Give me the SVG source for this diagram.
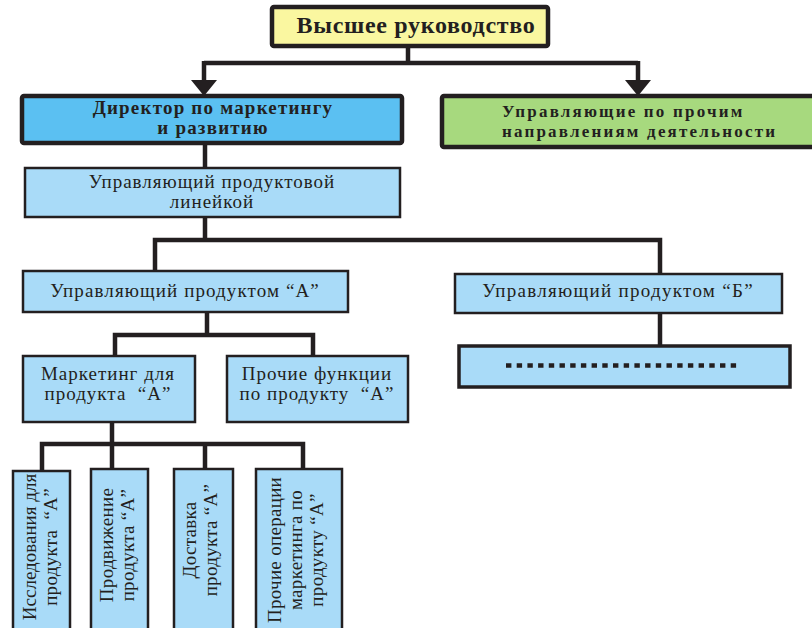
<svg xmlns="http://www.w3.org/2000/svg" width="812" height="628" viewBox="0 0 812 628">
<defs>
<style>
.t{font-family:"Liberation Serif","DejaVu Serif",serif;fill:#231F20;}
.b{font-weight:bold;}
.c{text-anchor:middle;}
.box{stroke:#231F20;stroke-width:2.5;fill:#A9DBF8;}
.thick{stroke-width:4.5;}
.con{fill:none;stroke:#231F20;stroke-width:4.5;stroke-linejoin:miter;}
</style>
<marker id="arr" viewBox="0 0 16 26" refX="0" refY="13" markerWidth="16" markerHeight="26" orient="auto" markerUnits="userSpaceOnUse">
<path d="M0,0 L16,13 L0,26 z" fill="#231F20"/>
</marker>
</defs>
<rect width="812" height="628" fill="#FFFFFF"/>

<g id="connectors">
<path class="con" d="M408,46 V63 M204,63 H638"/>
<path class="con" d="M204,61 V80" marker-end="url(#arr)"/>
<path class="con" d="M638,61 V80" marker-end="url(#arr)"/>
<path class="con" d="M205,143 V168"/>
<path class="con" d="M205,217 V240 M155,272 V240 H660 V274"/>
<path class="con" d="M207,312 V335 M115,356 V335 H313 V356"/>
<path class="con" d="M660,313 V346"/>
<path class="con" d="M112,422 V444 M42,472 V444 H303 V470 M112,444 V470 M205,444 V470"/>
</g>

<g id="n-top">
<rect x="272" y="7" width="276" height="39" rx="2" class="box thick" style="fill:#FAF7A0"/>
<text class="t b c" x="416" y="33" font-size="24" letter-spacing="0.7">Высшее руководство</text>
</g>

<g id="n-director">
<rect x="22" y="96" width="380" height="47" rx="2" class="box thick" style="fill:#5BC0F2"/>
<text class="t b c" x="213" y="114" font-size="19" letter-spacing="1.2">Директор по маркетингу</text>
<text class="t b c" x="213" y="134" font-size="19" letter-spacing="1.2">и развитию</text>
</g>

<g id="n-other-directions">
<rect x="442" y="96" width="380" height="51" rx="2" class="box thick" style="fill:#A7D97E"/>
<text class="t b" x="502" y="117" font-size="17" letter-spacing="2.2">Управляющие по прочим</text>
<text class="t b" x="502" y="137" font-size="17" letter-spacing="2.2">направлениям деятельности</text>
</g>

<g id="n-product-line">
<rect x="25" y="168" width="375" height="49" class="box"/>
<text class="t c" x="212" y="188" font-size="19" letter-spacing="1">Управляющий продуктовой</text>
<text class="t c" x="212" y="208" font-size="19" letter-spacing="1">линейкой</text>
</g>

<g id="n-product-a">
<rect x="23" y="271" width="325" height="41" class="box"/>
<text class="t c" x="185" y="297" font-size="19" letter-spacing="1.1">Управляющий продуктом “А”</text>
</g>

<g id="n-product-b">
<rect x="455" y="274" width="327" height="39" class="box"/>
<text class="t c" x="618" y="297" font-size="19" letter-spacing="1.3">Управляющий продуктом “Б”</text>
</g>

<g id="n-dots">
<rect x="459" y="346" width="331" height="41" class="box" style="stroke-width:3.5"/>
<line x1="506" y1="365.5" x2="740" y2="365.5" stroke="#231F20" stroke-width="4.5" stroke-dasharray="5.4 5.3"/>
</g>

<g id="n-marketing-a">
<rect x="23" y="356" width="172" height="66" class="box"/>
<text class="t c" x="108" y="380" font-size="19" letter-spacing="1">Маркетинг для</text>
<text class="t c" x="108" y="400" font-size="19" letter-spacing="1" xml:space="preserve">продукта  “А”</text>
</g>

<g id="n-other-functions-a">
<rect x="227" y="356" width="181" height="66" class="box"/>
<text class="t c" x="317" y="380" font-size="19" letter-spacing="1">Прочие функции</text>
<text class="t c" x="317" y="400" font-size="19" letter-spacing="1" xml:space="preserve">по продукту  “А”</text>
</g>

<g id="n-research-a">
<rect x="13" y="471" width="57" height="170" class="box"/>
<g transform="translate(0,547) rotate(-90)">
<text class="t c" x="0" y="36" font-size="19">Исследования для</text>
<text class="t c" x="0" y="57" font-size="19" letter-spacing="0.3" xml:space="preserve">продукта  “А”</text>
</g>
</g>

<g id="n-promotion-a">
<rect x="91" y="469" width="57" height="170" class="box"/>
<g transform="translate(0,545) rotate(-90)">
<text class="t c" x="0" y="113" font-size="19" letter-spacing="0.3">Продвижение</text>
<text class="t c" x="0" y="134" font-size="19" letter-spacing="0.3">продукта “А”</text>
</g>
</g>

<g id="n-delivery-a">
<rect x="174" y="469" width="59" height="170" class="box"/>
<g transform="translate(0,540) rotate(-90)">
<text class="t c" x="0" y="196" font-size="19" letter-spacing="0.3">Доставка</text>
<text class="t c" x="0" y="217" font-size="19" letter-spacing="0.3">продукта “А”</text>
</g>
</g>

<g id="n-other-ops-a">
<rect x="256" y="469" width="86" height="170" class="box"/>
<g transform="translate(0,550) rotate(-90)">
<text class="t c" x="0" y="281" font-size="19" letter-spacing="0.3">Прочие операции</text>
<text class="t c" x="0" y="302" font-size="19" letter-spacing="0.3">маркетинга по</text>
<text class="t c" x="0" y="323" font-size="19" letter-spacing="0.3">продукту “А”</text>
</g>
</g>
</svg>
